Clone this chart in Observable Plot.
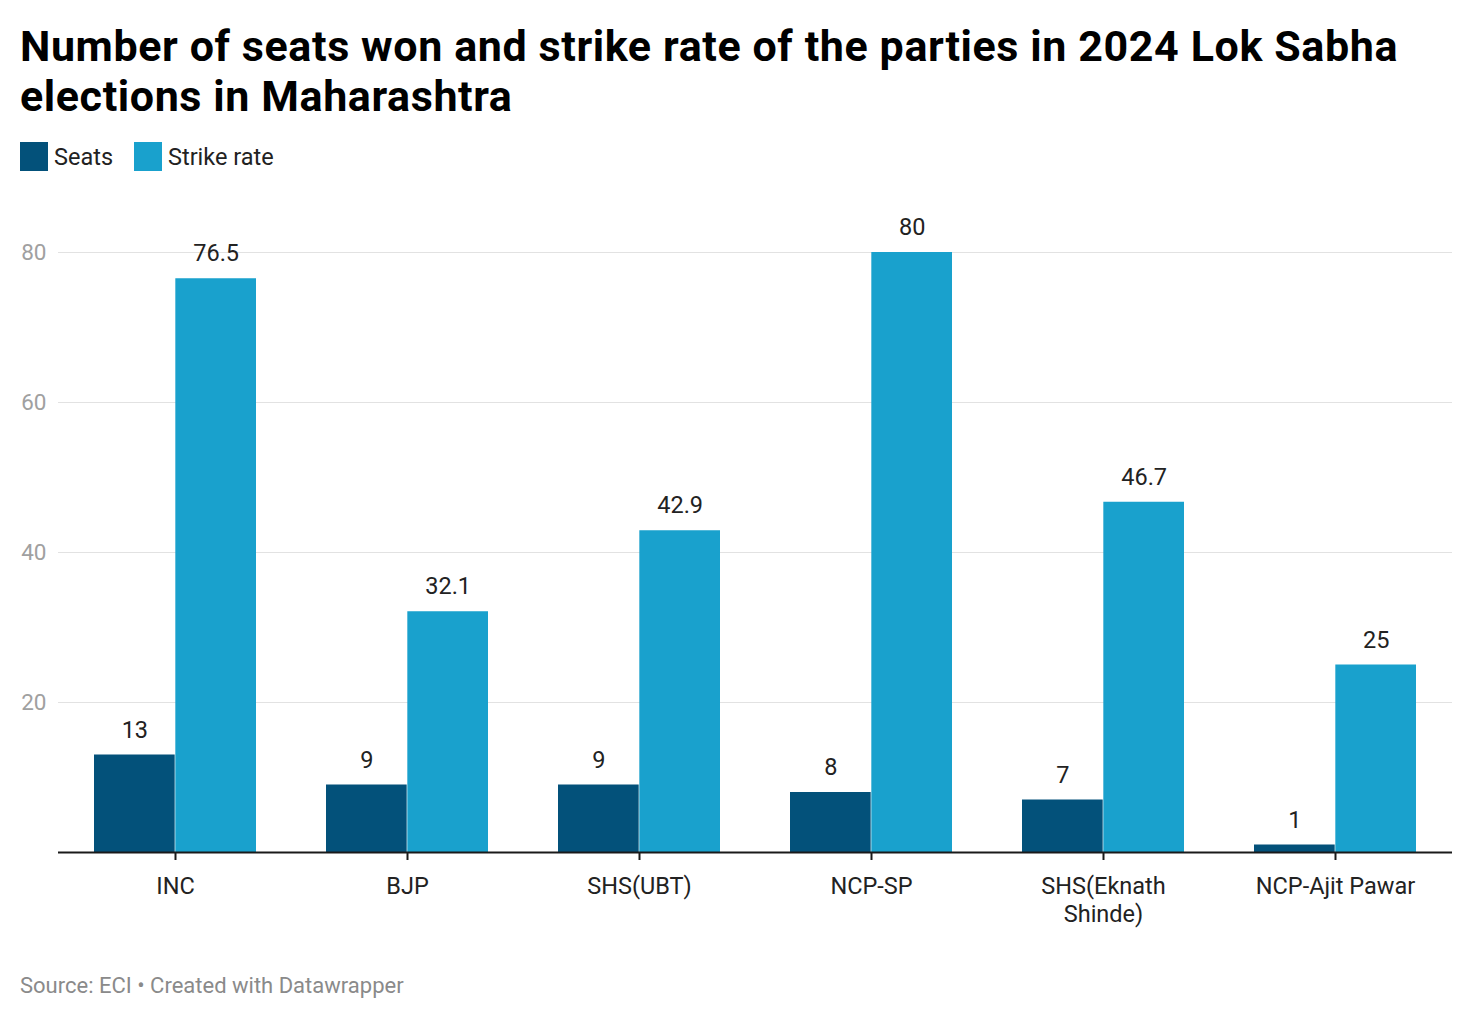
<!DOCTYPE html>
<html>
<head>
<meta charset="utf-8">
<script src="https://cdn.jsdelivr.net/npm/d3@7"></script>
<script src="https://cdn.jsdelivr.net/npm/@observablehq/plot@0.6"></script>
<style>
  html, body { margin: 0; padding: 0; background: #fff; }
  body { width: 1472px; height: 1022px; position: relative; font-family: Roboto, "Noto Sans", sans-serif; overflow: hidden; }
  #title { position: absolute; left: 20px; top: 21px; width: 1430px; font-size: 43px; line-height: 50px; letter-spacing: 0.6px; font-weight: 700; color: #000; margin: 0; }
  #legend { position: absolute; left: 20px; top: 142px; display: flex; align-items: center; font-size: 23.5px; color: #222; }
  .item { display: flex; align-items: center; margin-right: 21px; }
  .sw { width: 28px; height: 29px; margin-right: 6px; }
  #chart { position: absolute; left: 0; top: 190px; }
  #footer { position: absolute; left: 20px; top: 974px; font-size: 22px; line-height: 24px; color: #8a8a8a; }
</style>
</head>
<body>
<div id="title">Number of seats won and strike rate of the parties in 2024 Lok Sabha elections in Maharashtra</div>
<div id="legend"></div>
<div id="chart"></div>
<div id="footer">Source: ECI • Created with Datawrapper</div>
<script>
const parties = ["INC", "BJP", "SHS(UBT)", "NCP-SP", "SHS(Eknath Shinde)", "NCP-Ajit Pawar"];
const seats = [13, 9, 9, 8, 7, 1];
const strikeRate = [76.5, 32.1, 42.9, 80, 46.7, 25];
const seriesNames = ["Seats", "Strike rate"];
const seriesColors = ["#03517a", "#19a1cd"];
const yTicks = [20, 40, 60, 80];

const rows = parties.map((p, i) => ({party: p, seats: seats[i], strike: strikeRate[i]}));

// legend
const legend = document.getElementById("legend");
seriesNames.forEach((name, i) => {
  const it = document.createElement("div");
  it.className = "item";
  it.innerHTML = `<span class="sw" style="background:${seriesColors[i]}"></span><span>${name}</span>`;
  legend.appendChild(it);
});

const width = 1472, height = 742;
const marginLeft = 58, marginRight = 20, marginTop = 62, marginBottom = 80;
const xOpts = {domain: parties, paddingInner: 0.3, paddingOuter: 0.15};
const bw = Plot.scale({x: {...xOpts, type: "band", range: [marginLeft, width - marginRight]}}).bandwidth;

const wrap = d => d.length > 15 ? d.replace(" ", "\n") : d;

const chart = Plot.plot({
  width, height, marginLeft, marginRight, marginTop, marginBottom,
  style: {fontFamily: "Roboto, 'Noto Sans', sans-serif", background: "transparent", overflow: "visible"},
  x: {...xOpts, axis: null},
  y: {domain: [0, 80], axis: null},
  marks: [
    Plot.gridY(yTicks, {stroke: "#e2e2e2", strokeOpacity: 1, strokeWidth: 1}),
    Plot.axisY(yTicks, {tickSize: 0, tickPadding: 12, fontSize: 22.5, fill: "#a0a0a0"}),
    Plot.barY(rows, {x: "party", y: "seats", fill: seriesColors[0], insetRight: bw / 2}),
    Plot.barY(rows, {x: "party", y: "strike", fill: seriesColors[1], insetLeft: bw / 2}),
    Plot.ruleY([0], {stroke: "#1a1a1a", strokeWidth: 2}),
    Plot.axisX({tickSize: 8, tickPadding: 13, fontSize: 23.5, fill: "#222", stroke: "#1a1a1a", strokeWidth: 2, lineHeight: 1.2, label: null, tickFormat: wrap}),
    Plot.text(rows, {x: "party", y: "seats", text: d => String(d.seats), dx: -bw / 4, dy: -25, fontSize: 23.5, fill: "#222"}),
    Plot.text(rows, {x: "party", y: "strike", text: d => String(d.strike), dx: bw / 4, dy: -25, fontSize: 23.5, fill: "#222"})
  ]
});
document.getElementById("chart").appendChild(chart);
</script>
</body>
</html>
